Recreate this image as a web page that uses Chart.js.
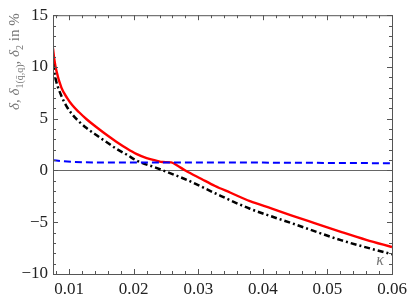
<!DOCTYPE html>
<html>
<head>
<meta charset="utf-8">
<script src="https://cdn.jsdelivr.net/npm/chart.js@4/dist/chart.umd.min.js"></script>
<style>
  html, body { margin: 0; padding: 0; background: #fff; }
  #wrap { width: 415px; height: 301px; }
</style>
</head>
<body>
<div id="wrap"><canvas id="c" width="415" height="301"></canvas></div>
<script>
// values (kappa on x, percent on y)
const kappaRed = [0.0075, 0.0077, 0.008, 0.0088, 0.0097, 0.0105, 0.0115, 0.0127, 0.0142, 0.016, 0.0173, 0.019, 0.0204, 0.022, 0.0235, 0.0245, 0.0258, 0.0268, 0.028, 0.0305, 0.0326, 0.035, 0.038, 0.0414, 0.0445, 0.048, 0.0522, 0.056, 0.06];
const deltaRed = [11.8, 10.75, 9.7, 8.0, 7.0, 6.3, 5.65, 4.95, 4.2, 3.35, 2.78, 2.1, 1.61, 1.2, 0.95, 0.82, 0.78, 0.45, 0.0, -0.82, -1.5, -2.15, -2.97, -3.68, -4.35, -5.08, -5.95, -6.7, -7.4];

const kappaBlack = [0.0075, 0.0077, 0.008, 0.0088, 0.0097, 0.0105, 0.0115, 0.0127, 0.0142, 0.016, 0.0173, 0.019, 0.0204, 0.0235, 0.0258, 0.0284, 0.0326, 0.038, 0.0414, 0.0445, 0.0522, 0.06];
const deltaBlack = [10.3, 9.5, 8.6, 7.2, 6.1, 5.4, 4.75, 4.1, 3.42, 2.65, 2.1, 1.5, 0.97, 0.25, -0.3, -0.95, -2.2, -3.7, -4.45, -5.1, -6.75, -8.1];

const kappaBlue = [0.0075, 0.009, 0.012, 0.015, 0.02, 0.03, 0.04, 0.05, 0.06];
const deltaBlue = [1.0, 0.9, 0.8, 0.77, 0.78, 0.78, 0.76, 0.73, 0.7];

const xTicks = [0.01, 0.02, 0.03, 0.04, 0.05, 0.06];
const yTicks = [-10, -5, 0, 5, 10, 15];

const serif = '"Liberation Serif", "Times New Roman", Tinos, serif';
const pts = (xs, ys) => xs.map((x, i) => ({ x: x, y: ys[i] }));

// frame, inward ticks on all four sides, axis labels
const framePlugin = {
  id: 'frame',
  afterDraw(chart) {
    const { ctx, chartArea: a, scales } = chart;
    const xs = scales.x, ys = scales.y;
    ctx.save();
    ctx.strokeStyle = '#555';
    ctx.lineWidth = 1;
    ctx.strokeRect(a.left + 0.5, a.top + 0.5, a.right - a.left, a.bottom - a.top);

    ctx.beginPath();
    for (let v = 0.008; v <= 0.0601; v += 0.002) {
      const major = Math.abs(v * 100 - Math.round(v * 100)) < 1e-6;
      const len = major ? 5 : 3;
      const px = Math.round(xs.getPixelForValue(v)) + 0.5;
      ctx.moveTo(px, a.bottom); ctx.lineTo(px, a.bottom - len);
      ctx.moveTo(px, a.top); ctx.lineTo(px, a.top + len);
    }
    for (let v = -10; v <= 15; v += 1) {
      const len = v % 5 === 0 ? 5 : 3;
      const py = Math.round(ys.getPixelForValue(v)) + 0.5;
      ctx.moveTo(a.left, py); ctx.lineTo(a.left + len, py);
      ctx.moveTo(a.right, py); ctx.lineTo(a.right - len, py);
    }
    ctx.stroke();

    // kappa label
    ctx.fillStyle = '#777';
    ctx.font = 'italic 16px ' + serif;
    ctx.textAlign = 'center';
    ctx.textBaseline = 'alphabetic';
    ctx.fillText('κ', a.right - 12, a.bottom - 9);

    // y axis title with subscripts
    ctx.translate(14, 110);
    ctx.rotate(-Math.PI / 2);
    ctx.textAlign = 'left';
    const parts = [
      ['δ, δ', 15, 0, 'italic '],
      ['1(q\u0304,q)', 10, 4, ''],
      [', δ', 15, 0, 'italic '],
      ['2', 10, 4, ''],
      [' in %', 15, 0, ''],
    ];
    let x = 0;
    for (const [t, size, dy, style] of parts) {
      ctx.font = style + size + 'px ' + serif;
      ctx.fillText(t, x, 5 + dy);
      x += ctx.measureText(t).width;
    }
    ctx.restore();
  }
};

new Chart('c', {
  type: 'line',
  data: {
    datasets: [
      {
        data: pts(kappaBlue, deltaBlue),
        borderColor: '#0000ff',
        borderWidth: 2,
        borderDash: [7, 4],
        cubicInterpolationMode: 'monotone',
        pointRadius: 0,
        fill: false,
      },
      {
        data: pts(kappaBlack, deltaBlack),
        borderColor: '#000',
        borderWidth: 2.5,
        borderDash: [6, 3, 2, 3],
        cubicInterpolationMode: 'monotone',
        pointRadius: 0,
        fill: false,
      },
      {
        data: pts(kappaRed, deltaRed),
        borderColor: '#ff0000',
        borderWidth: 2.4,
        cubicInterpolationMode: 'monotone',
        pointRadius: 0,
        fill: false,
      },
    ],
  },
  options: {
    responsive: false,
    animation: false,
    layout: { padding: { top: 15, right: 23, left: 0, bottom: 0 } },
    plugins: { legend: { display: false }, tooltip: { enabled: false } },
    scales: {
      x: {
        type: 'linear',
        min: 0.0075,
        max: 0.06,
        afterBuildTicks: s => { s.ticks = xTicks.map(v => ({ value: v })); },
        afterFit: s => { s.height = 27; },
        grid: { display: false, drawTicks: false },
        border: { display: false },
        ticks: {
          padding: 5,
          maxRotation: 0,
          color: '#222',
          font: { family: serif, size: 17 },
          callback: v => v.toFixed(2),
        },
      },
      y: {
        type: 'linear',
        min: -10,
        max: 15,
        afterBuildTicks: s => { s.ticks = yTicks.map(v => ({ value: v })); },
        afterFit: s => { s.width = 53; },
        grid: {
          drawTicks: false,
          color: c => (c.tick && c.tick.value === 0 ? '#666' : 'rgba(0,0,0,0)'),
          lineWidth: 1,
        },
        border: { display: false },
        ticks: {
          padding: 5,
          color: '#222',
          font: { family: serif, size: 17 },
          callback: v => (v < 0 ? '\u2212' + Math.abs(v) : String(v)),
        },
      },
    },
  },
  plugins: [framePlugin],
});
</script>
</body>
</html>
